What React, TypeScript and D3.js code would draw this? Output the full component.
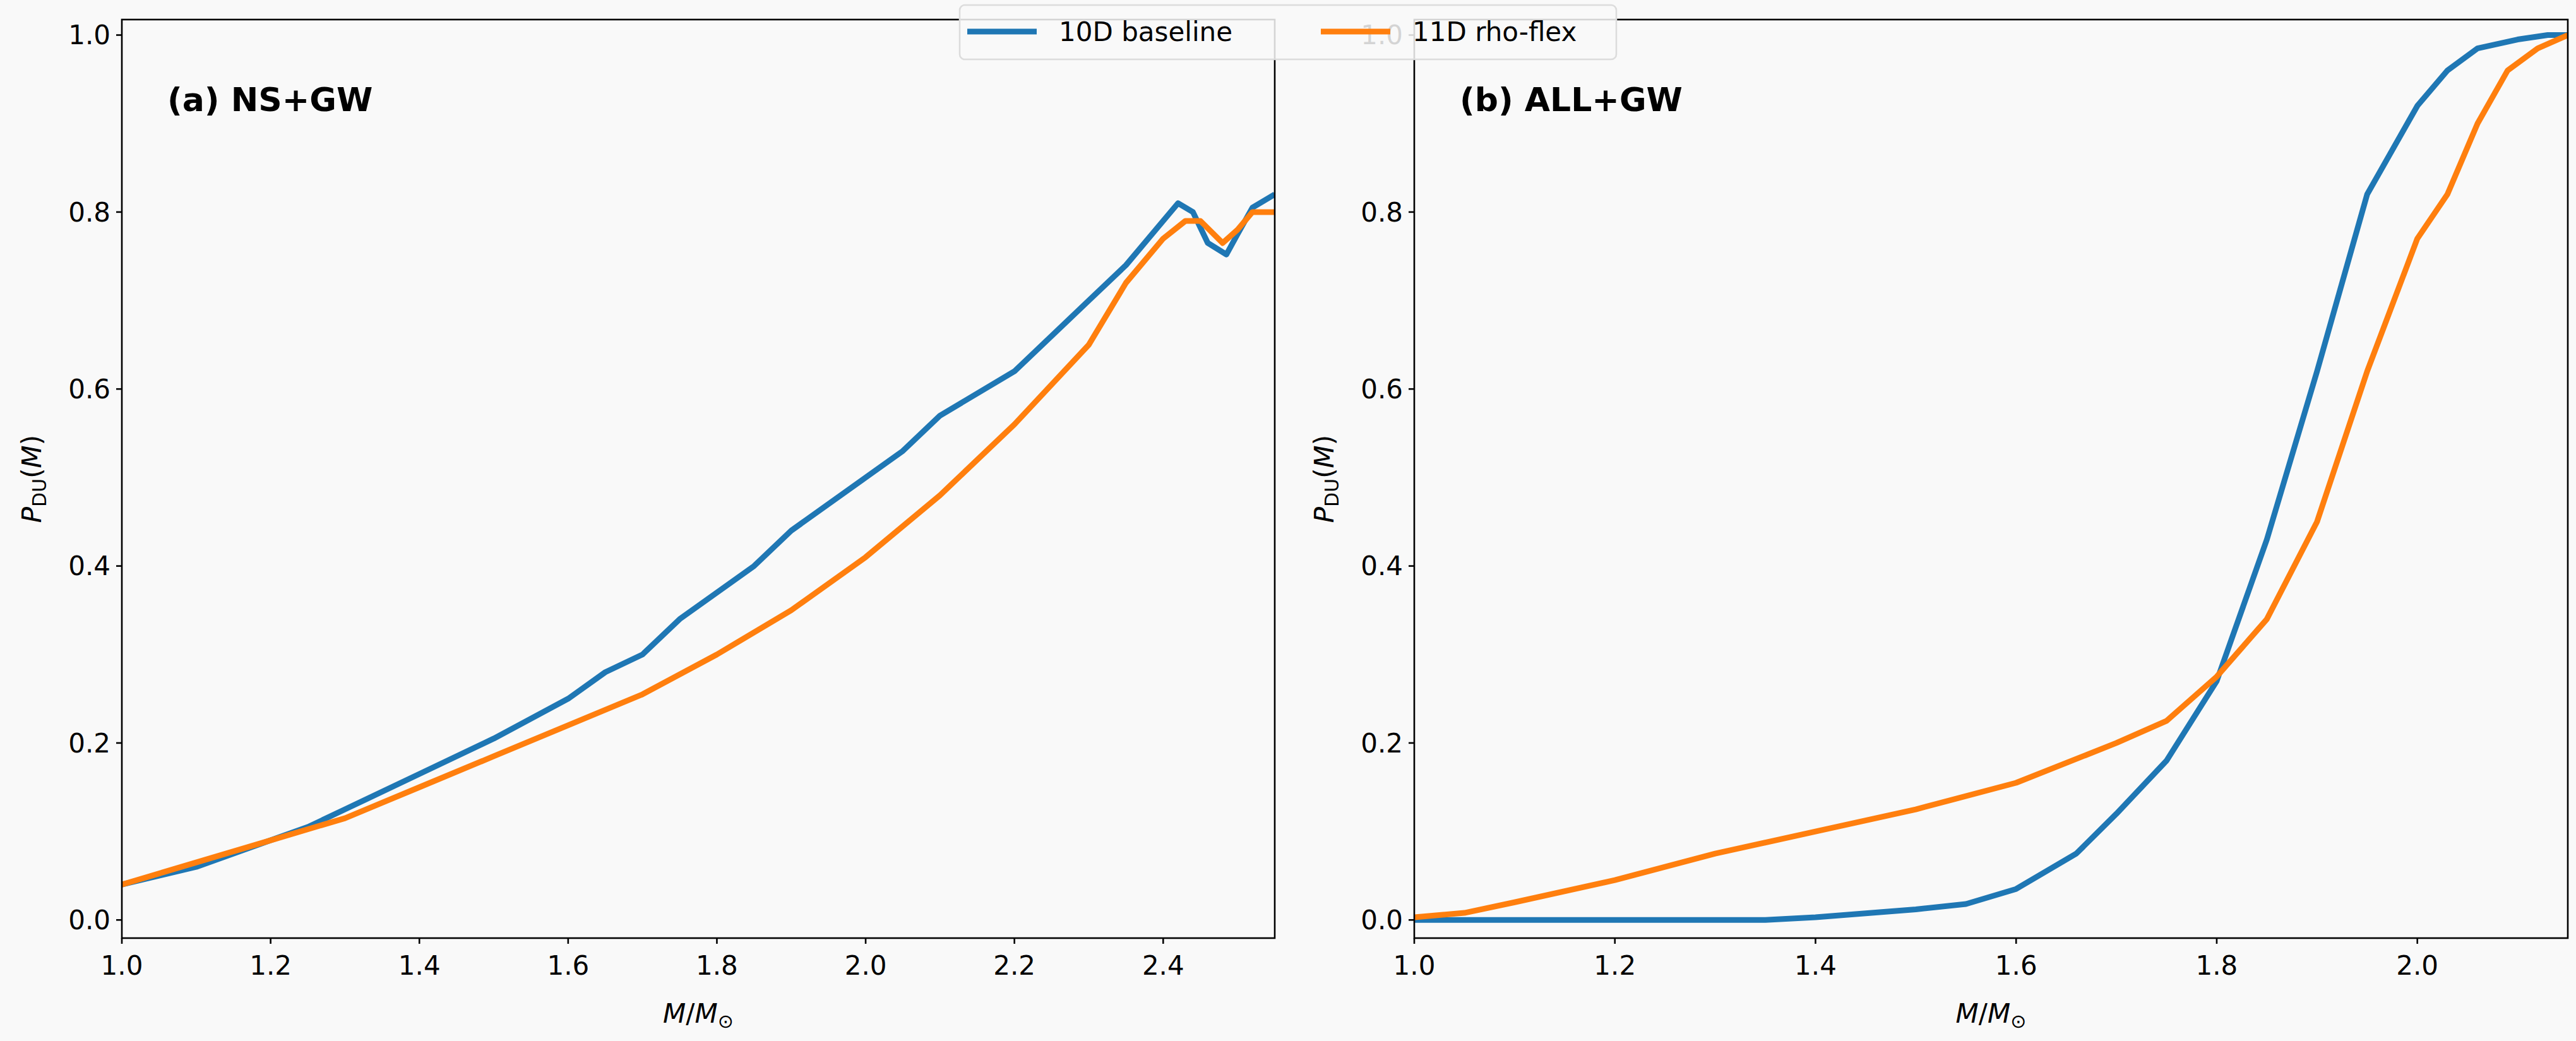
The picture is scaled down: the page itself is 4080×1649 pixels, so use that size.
import React from 'react';
import * as d3 from 'd3';

// panel (a) NS+GW
const aBlueX = [1.0, 1.1, 1.2, 1.25, 1.3, 1.4, 1.5, 1.6, 1.65, 1.7, 1.75, 1.8, 1.85, 1.9, 2.0, 2.05, 2.1, 2.2, 2.3, 2.35, 2.4, 2.42, 2.44, 2.46, 2.485, 2.5, 2.52, 2.55];
const aBlueY = [0.04, 0.06, 0.09, 0.105, 0.125, 0.165, 0.205, 0.25, 0.28, 0.3, 0.34, 0.37, 0.4, 0.44, 0.5, 0.53, 0.57, 0.62, 0.7, 0.74, 0.79, 0.81, 0.8, 0.765, 0.752, 0.775, 0.805, 0.82];
const aOrangeX = [1.0, 1.1, 1.2, 1.3, 1.4, 1.5, 1.6, 1.7, 1.8, 1.9, 2.0, 2.1, 2.2, 2.3, 2.35, 2.4, 2.43, 2.45, 2.48, 2.5, 2.52, 2.55];
const aOrangeY = [0.04, 0.065, 0.09, 0.115, 0.15, 0.185, 0.22, 0.255, 0.3, 0.35, 0.41, 0.48, 0.56, 0.65, 0.72, 0.77, 0.79, 0.79, 0.765, 0.78, 0.8, 0.8];

// panel (b) ALL+GW
const bBlueX = [1.0, 1.35, 1.4, 1.5, 1.55, 1.6, 1.63, 1.66, 1.7, 1.75, 1.8, 1.85, 1.9, 1.95, 2.0, 2.03, 2.06, 2.1, 2.13, 2.15];
const bBlueY = [0, 0, 0.003, 0.012, 0.018, 0.035, 0.055, 0.075, 0.12, 0.18, 0.27, 0.43, 0.62, 0.82, 0.92, 0.96, 0.985, 0.995, 1.0, 1.0];
const bOrangeX = [1.0, 1.05, 1.1, 1.2, 1.3, 1.4, 1.5, 1.6, 1.7, 1.75, 1.8, 1.85, 1.9, 1.95, 2.0, 2.03, 2.06, 2.09, 2.12, 2.15];
const bOrangeY = [0.003, 0.008, 0.02, 0.045, 0.075, 0.1, 0.125, 0.155, 0.2, 0.225, 0.275, 0.34, 0.45, 0.62, 0.77, 0.82, 0.9, 0.96, 0.985, 1.0];

const seriesNames = ['10D baseline', '11D rho-flex'];
const colors = ['#1f77b4', '#ff7f0e'];
const yTicks = [0, 0.2, 0.4, 0.6, 0.8, 1.0];
const aXTicks = [1.0, 1.2, 1.4, 1.6, 1.8, 2.0, 2.2, 2.4];
const bXTicks = [1.0, 1.2, 1.4, 1.6, 1.8, 2.0];

const W = 4080, H = 1649;
const top = 31, bottom = 1486;
const font = 'DejaVu Sans, sans-serif';

function Panel({ x0, x1, xMax, xTicks, title, series }: any) {
  const x = d3.scaleLinear().domain([1.0, xMax]).range([x0, x1]);
  const y = d3.scaleLinear().domain([-0.0205, 1.0175]).range([bottom, top]);
  const line = d3.line<[number, number]>().x(d => x(d[0])).y(d => y(d[1]));
  return (
    <g>
      <defs>
        <clipPath id={'clip' + x0}><rect x={x0} y={top} width={x1 - x0} height={bottom - top} /></clipPath>
      </defs>
      <g clipPath={`url(#clip${x0})`}>
        {series.map((s: any, i: number) => (
          <path key={i} d={line(s.xs.map((v: number, j: number) => [v, s.ys[j]])) || ''}
            fill="none" stroke={colors[i]} strokeWidth={9} strokeLinejoin="round" />
        ))}
      </g>
      <rect x={x0} y={top} width={x1 - x0} height={bottom - top} fill="none" stroke="#000" strokeWidth={2.6} />
      {yTicks.map(t => (
        <g key={t}>
          <line x1={x0} x2={x0 - 9} y1={y(t)} y2={y(t)} stroke="#000" strokeWidth={2.6} />
          <text x={x0 - 18} y={y(t)} dy="0.35em" textAnchor="end" fontSize={42} fontFamily={font}>{t.toFixed(1)}</text>
        </g>
      ))}
      {xTicks.map((t: number) => (
        <g key={t}>
          <line x1={x(t)} x2={x(t)} y1={bottom} y2={bottom + 9} stroke="#000" strokeWidth={2.6} />
          <text x={x(t)} y={bottom + 58} textAnchor="middle" fontSize={42} fontFamily={font}>{t.toFixed(1)}</text>
        </g>
      ))}
      <text x={x0 + 72} y={176} fontSize={52} fontWeight="bold" fontFamily={font}>{title}</text>
      <text x={(x0 + x1) / 2} y={1620} textAnchor="middle" fontSize={42} fontFamily={font}>
        <tspan fontStyle="italic">M</tspan>/<tspan fontStyle="italic">M</tspan><tspan fontSize={30} dy={8}>⊙</tspan>
      </text>
      <text transform={`translate(${x0 - 128},${(top + bottom) / 2}) rotate(-90)`} textAnchor="middle" fontSize={42} fontFamily={font}>
        <tspan fontStyle="italic">P</tspan><tspan fontSize={30} dy={8}>DU</tspan><tspan dy={-8}>(</tspan><tspan fontStyle="italic">M</tspan>)
      </text>
    </g>
  );
}

export default function App() {
  return (
    <svg width={W} height={H} style={{ position: 'absolute', left: 0, top: 0, background: '#f9f9f9' }}>
      <rect width={W} height={H} fill="#f9f9f9" />
      <Panel x0={193} x1={2019} xMax={2.55} xTicks={aXTicks} title="(a) NS+GW"
        series={[{ xs: aBlueX, ys: aBlueY }, { xs: aOrangeX, ys: aOrangeY }]} />
      <Panel x0={2240} x1={4067} xMax={2.15} xTicks={bXTicks} title="(b) ALL+GW"
        series={[{ xs: bBlueX, ys: bBlueY }, { xs: bOrangeX, ys: bOrangeY }]} />
      <g>
        <rect x={1520} y={8} width={1040} height={86} rx={8} fill="#f9f9f9" fillOpacity={0.85} stroke="#dcdcdc" strokeWidth={2.6} />
        {seriesNames.map((n, i) => (
          <g key={n} transform={`translate(${1532 + i * 560},50)`}>
            <line x1={0} x2={110} y1={0} y2={0} stroke={colors[i]} strokeWidth={9} />
            <text x={145} y={0} dy="0.35em" fontSize={42} fontFamily={font}>{n}</text>
          </g>
        ))}
      </g>
    </svg>
  );
}
